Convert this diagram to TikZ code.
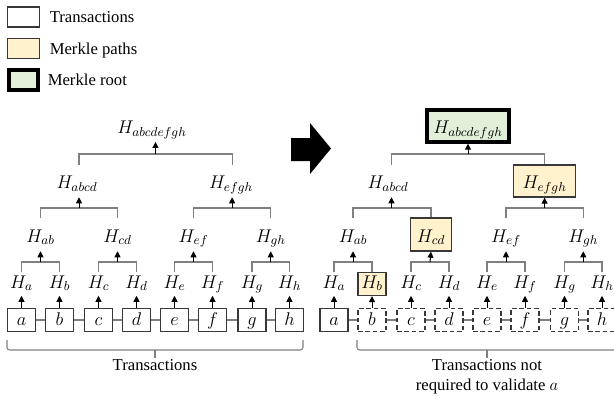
\RequirePackage{fix-cm}
\documentclass[tikz,border=0pt]{standalone}
\usepackage{fontspec}
\setmainfont{Liberation Serif}
\usepackage{tikz}
\usetikzlibrary{arrows.meta, positioning}

\definecolor{pathfill}{HTML}{FFF2CC}
\definecolor{rootfill}{HTML}{E2F0D9}
\definecolor{linkgray}{HTML}{808080}
\definecolor{boxgray}{HTML}{383838}

\tikzset{
  hfont/.style={font=\fontsize{13.8}{16}\selectfont},
  tx/.style={hfont, draw=boxgray, line width=1pt, minimum width=21pt, minimum height=17.25pt,
    inner sep=0pt, text height=9pt, text depth=1.5pt},
  txmissing/.style={tx, dash pattern=on 3.5pt off 2pt},
  leafh/.style={hfont, minimum width=21pt, minimum height=17.25pt, inner sep=0pt,
    text height=9pt, text depth=3pt},
  pairh/.style={hfont, minimum width=30.75pt, minimum height=24.75pt, inner sep=0pt,
    text height=11.5pt, text depth=0pt},
  quadh/.style={hfont, minimum width=46.5pt, minimum height=24pt, inner sep=0pt,
    text height=11.5pt, text depth=0pt},
  rooth/.style={hfont, minimum width=61.5pt, minimum height=23.5pt, inner sep=0pt,
    text height=11.5pt, text depth=0pt},
  pathbox/.style={draw=boxgray, line width=1pt, fill=pathfill},
  rootbox/.style={draw=black, line width=3pt, fill=rootfill},
  legbox/.style={draw=boxgray, line width=1pt, minimum width=24pt, minimum height=15pt, inner sep=0pt},
  legtext/.style={inner sep=0pt, text height=8.5pt, text depth=0pt},
  link/.style={draw=linkgray, line width=0.8pt},
  up/.style={-{Triangle[width=4.5pt,length=4.5pt]}, line width=0.75pt, black},
}

\begin{document}
\begin{tikzpicture}[x=0.75pt, y=-0.75pt, font=\fontsize{12.5}{15}\selectfont]
    \useasboundingbox (0,0) rectangle (614,405);
    % --- Legend ---
    \node[legbox] (kt) at (23.5,17) {};
    \node[legbox, pathbox] (kp) at (23.5,48.5) {};
    \node[legbox, rootbox, minimum width=22pt, minimum height=15.5pt] (kr) at (23.5,80) {};
    \node[legtext, right=7pt of kt] (ktl) {Transactions};
    \node[legtext, right=7pt of kp] (kpl) {Merkle paths};
    \node[legtext, right=5.5pt of kr] (krl) {Merkle root};
    % --- Full tree (left) ---
    \node[tx] (la) at (21.5,320) {$a$};
    \node[tx] (lb) at (59.5,320) {$b$};
    \node[tx] (lc) at (98.5,320) {$c$};
    \node[tx] (ld) at (136.5,320) {$d$};
    \node[tx] (le) at (174.5,320) {$e$};
    \node[tx] (lf) at (212.5,320) {$f$};
    \node[tx] (lg) at (252,320) {$g$};
    \node[tx] (lh) at (289.5,320) {$h$};
    \draw[link] (la) -- (lb) -- (lc) -- (ld) -- (le) -- (lf) -- (lg) -- (lh);
    \node[leafh] (lha) at (21.5,284) {$H_a$};
    \node[leafh] (lhb) at (59.5,284) {$H_b$};
    \node[leafh] (lhc) at (98.5,284) {$H_c$};
    \node[leafh] (lhd) at (136.5,284) {$H_d$};
    \node[leafh] (lhe) at (174.5,284) {$H_e$};
    \node[leafh] (lhf) at (212.5,284) {$H_f$};
    \node[leafh] (lhg) at (252,284) {$H_g$};
    \node[leafh] (lhh) at (289.5,284) {$H_h$};
    \foreach \t in {a,b,c,d,e,f,g,h}
      \draw[up] (l\t.north) -- (lh\t.south);
    \node[pairh] (lhab) at (40.5,234.5) {$H_{ab}$};
    \node[pairh] (lhcd) at (117.5,234.5) {$H_{cd}$};
    \node[pairh] (lhef) at (193.5,234.5) {$H_{ef}$};
    \node[pairh] (lhgh) at (270.75,234.5) {$H_{gh}$};
    \node[quadh] (lhabcd) at (77,181) {$H_{abcd}$};
    \node[quadh] (lhefgh) at (231,181) {$H_{efgh}$};
    \node[rooth] (lhroot) at (152,126) {$H_{abcdefgh}$};
    \coordinate (ljab) at (40.5,262);
    \coordinate (ljcd) at (117.5,262);
    \coordinate (ljef) at (193.5,262);
    \coordinate (ljgh) at (270.75,262);
    \coordinate (ljabcd) at (79,208);
    \coordinate (ljefgh) at (232.1,208);
    \coordinate (ljroot) at (155.5,154);
    \draw[link] (lha.north) |- (ljab) -| (lhb.north);
    \draw[link] (lhc.north) |- (ljcd) -| (lhd.north);
    \draw[link] (lhe.north) |- (ljef) -| (lhf.north);
    \draw[link] (lhg.north) |- (ljgh) -| (lhh.north);
    \draw[link] (lhab.north) |- (ljabcd) -| (lhcd.north);
    \draw[link] (lhef.north) |- (ljefgh) -| (lhgh.north);
    \draw[link] (lhabcd.north -| ljabcd) |- (ljroot) -| (lhefgh.north -| ljefgh);
    \draw[up] (ljab) -- (lhab.south);
    \draw[up] (ljcd) -- (lhcd.south);
    \draw[up] (ljef) -- (lhef.south);
    \draw[up] (ljgh) -- (lhgh.south);
    \draw[up] (ljabcd) -- (ljabcd |- lhabcd.south);
    \draw[up] (ljefgh) -- (ljefgh |- lhefgh.south);
    \draw[up] (ljroot) -- (ljroot |- lhroot.south);
    % brace under the transactions
    \coordinate (lbl) at (7,340);
    \coordinate (lbr) at (303,340);
    \coordinate (lbm) at (155,350);
    \node[anchor=north, inner sep=1pt] (ltxt) at (155,358) {Transactions};
    \draw[link, rounded corners=2pt] (lbl) -- ++(0,10) -| (lbr);
    \draw[link] (lbm) -- (ltxt.north);
    % --- Big arrow ---
    \fill (291,138) -- (310,138) -- (310,123) -- (331,148.5) -- (310,174)
      -- (310,161) -- (291,161) -- cycle;
    % --- Proof for a (right) ---
    \node[tx] (ra) at (334,320) {$a$};
    \node[txmissing] (rb) at (372,320) {$b$};
    \node[txmissing] (rc) at (411,320) {$c$};
    \node[txmissing] (rd) at (449,320) {$d$};
    \node[txmissing] (re) at (487,320) {$e$};
    \node[txmissing] (rf) at (525,320) {$f$};
    \node[txmissing] (rg) at (564.5,320) {$g$};
    \node[txmissing] (rh) at (602,320) {$h$};
    \draw[link] (ra) -- (rb) -- (rc) -- (rd) -- (re) -- (rf) -- (rg) -- (rh);
    \node[leafh] (rha) at (334,284) {$H_a$};
    \node[leafh, pathbox] (rhb) at (372,284) {$H_b$};
    \node[leafh] (rhc) at (411,284) {$H_c$};
    \node[leafh] (rhd) at (449,284) {$H_d$};
    \node[leafh] (rhe) at (487,284) {$H_e$};
    \node[leafh] (rhf) at (525,284) {$H_f$};
    \node[leafh] (rhg) at (564.5,284) {$H_g$};
    \node[leafh] (rhh) at (602,284) {$H_h$};
    \foreach \t in {a,b,c,d,e,f,g,h}
      \draw[up] (r\t.north) -- (rh\t.south);
    \node[pairh] (rhab) at (353,234.5) {$H_{ab}$};
    \node[pairh, pathbox] (rhcd) at (431,234.5) {$H_{cd}$};
    \node[pairh] (rhef) at (506,234.5) {$H_{ef}$};
    \node[pairh] (rhgh) at (583.25,234.5) {$H_{gh}$};
    \node[quadh] (rhabcd) at (388,181) {$H_{abcd}$};
    \node[quadh, pathbox] (rhefgh) at (544.6,181) {$H_{efgh}$};
    \node[rooth, rootbox] (rhroot) at (468,126) {$H_{abcdefgh}$};
    \coordinate (rjab) at (353,262);
    \coordinate (rjcd) at (430,262);
    \coordinate (rjef) at (506,262);
    \coordinate (rjgh) at (583.25,262);
    \coordinate (rjabcd) at (391.5,208);
    \coordinate (rjefgh) at (544.6,208);
    \coordinate (rjroot) at (468,154);
    \draw[link] (rha.north) |- (rjab) -| (rhb.north);
    \draw[link] (rhc.north) |- (rjcd) -| (rhd.north);
    \draw[link] (rhe.north) |- (rjef) -| (rhf.north);
    \draw[link] (rhg.north) |- (rjgh) -| (rhh.north);
    \draw[link] (rhab.north) |- (rjabcd) -| (rhcd.north);
    \draw[link] (rhef.north) |- (rjefgh) -| (rhgh.north);
    \draw[link] (rhabcd.north -| rjabcd) |- (rjroot) -| (rhefgh.north);
    \draw[up] (rjab) -- (rhab.south);
    \draw[up] (rjcd) -- (rhcd.south);
    \draw[up] (rjef) -- (rhef.south);
    \draw[up] (rjgh) -- (rhgh.south);
    \draw[up] (rjabcd) -- (rjabcd |- rhabcd.south);
    \draw[up] (rjefgh) -- (rhefgh.south);
    \draw[up] (rjroot) -- (rhroot.south);
    % brace under the transactions that are not needed
    \coordinate (rbl) at (357,340);
    \coordinate (rbr) at (617,340);
    \coordinate (rbm) at (487,350);
    \node[anchor=north, inner sep=1pt, align=center] (rtxt) at (487,358)
      {Transactions not\\required to validate $a$};
    \draw[link, rounded corners=2pt] (rbl) -- ++(0,10) -| (rbr);
    \draw[link] (rbm) -- (rtxt.north);
\end{tikzpicture}
\end{document}
